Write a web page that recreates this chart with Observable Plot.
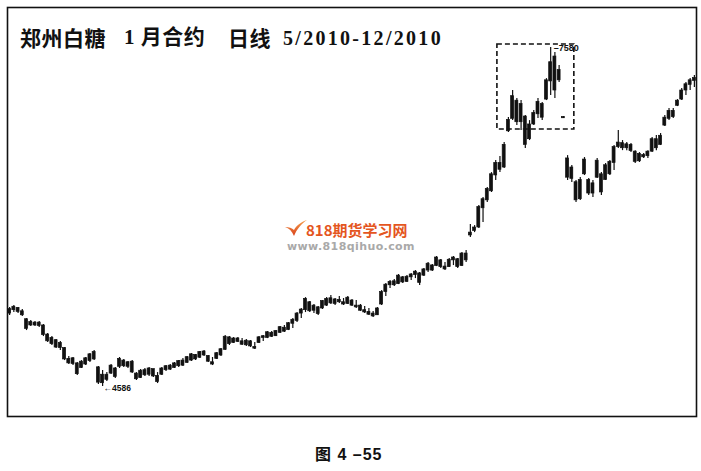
<!DOCTYPE html>
<html><head><meta charset="utf-8">
<script src="https://cdn.jsdelivr.net/npm/d3@7"></script>
<script src="https://cdn.jsdelivr.net/npm/@observablehq/plot@0.6"></script>
<style>
html,body{margin:0;padding:0;background:#fff;}
#wrap{position:relative;width:701px;height:471px;overflow:hidden;background:#fff;}
#wrap svg{position:absolute;left:0;top:0;}
.t{position:absolute;white-space:nowrap;font-weight:700;color:#111;line-height:1;}
.cjk{font-family:"Noto Sans CJK SC",sans-serif;}
.num{font-family:"Liberation Serif","Noto Sans CJK SC",serif;}
</style></head><body><div id="wrap"></div>
<script>
// Daily OHLC, Zhengzhou sugar Jan contract, 5/2010-12/2010
const opens = [5230,5260,5280,5250,5180,5125,5150,5120,5125,5045,
4960,4995,4925,4925,4830,4785,4790,4750,4780,4810,
4890,4755,4615,4690,4700,4745,4760,4815,4760,4805,
4700,4660,4730,4690,4740,4680,4690,4730,4770,4750,
4765,4815,4795,4815,4865,4840,4895,4855,4800,4830,
4860,4910,5020,4970,5010,4985,4950,4985,4935,4970,
5015,5015,5060,5030,5060,5105,5085,5140,5165,5230,
5260,5330,5255,5285,5275,5300,5365,5315,5350,5330,
5315,5345,5300,5300,5260,5245,5230,5215,5310,5420,
5480,5515,5490,5550,5510,5550,5570,5585,5565,5610,
5655,5650,5700,5645,5640,5700,5710,5650,5760,5920,
5990,5990,6160,6230,6310,6450,6560,6520,6840,6950,
7110,6920,6970,6770,6900,6990,7080,7120,7280,7500,
7290,6965,6600,6420,6390,6240,6460,6410,6290,6430,
6460,6410,6460,6560,6700,6735,6690,6720,6660,6575,
6610,6620,6660,6770,6720,6890,6950,7020,7065,7120,
7200,7250,7285];
const highs = [5283,5301,5283,5266,5186,5168,5160,5160,5133,5054,
5027,5001,4983,4930,4851,4842,4798,4815,4842,4877,
4903,4762,4727,4709,4780,4753,4842,4824,4806,4815,
4709,4736,4745,4753,4736,4709,4753,4771,4780,4798,
4815,4833,4851,4877,4868,4895,4903,4859,4842,4886,
4921,5036,5027,5018,5018,5009,5001,4992,4974,5027,
5036,5071,5071,5080,5115,5124,5151,5186,5239,5274,
5371,5336,5310,5292,5345,5371,5389,5363,5380,5363,
5380,5354,5345,5310,5292,5274,5248,5283,5433,5495,
5522,5530,5575,5557,5566,5583,5610,5592,5628,5681,
5663,5734,5707,5681,5716,5734,5716,5769,5786,6016,
6007,6184,6254,6343,6475,6581,6617,6740,6961,7199,
7129,7111,6979,6934,7023,7129,7093,7305,7580,7535,
7420,6970,6625,6537,6405,6431,6608,6422,6405,6599,
6475,6555,6581,6714,6846,6758,6740,6731,6669,6652,
6643,6669,6784,6802,6820,6979,7040,7040,7120,7217,
7270,7305,7332];
const lows = [5213,5239,5230,5204,5080,5115,5115,5107,5027,4974,
4948,4921,4903,4815,4780,4771,4683,4745,4771,4798,
4815,4603,4586,4630,4692,4656,4745,4753,4745,4700,
4639,4656,4674,4674,4665,4612,4683,4718,4727,4745,
4753,4762,4789,4806,4815,4833,4851,4798,4771,4824,
4851,4903,4948,4965,4974,4948,4939,4930,4912,4965,
4983,5009,5018,5027,5054,5062,5080,5098,5151,5186,
5239,5239,5230,5213,5266,5292,5310,5301,5319,5301,
5310,5292,5274,5248,5230,5213,5195,5213,5301,5380,
5451,5469,5486,5495,5504,5522,5539,5477,5557,5592,
5601,5645,5628,5610,5636,5654,5628,5645,5681,5901,
5945,5981,6034,6210,6299,6405,6475,6511,6828,6934,
6890,6846,6687,6758,6890,6952,6934,7111,7155,7129,
7270,6952,6405,6387,6210,6228,6449,6272,6254,6422,
6272,6405,6449,6493,6687,6669,6669,6652,6555,6564,
6599,6599,6652,6669,6714,6881,6934,6952,7058,7111,
7155,7199,7226];
const closes = [5270,5290,5245,5215,5095,5155,5125,5150,5040,4985,
5015,4930,4970,4825,4790,4835,4695,4805,4835,4870,
4825,4620,4690,4645,4770,4670,4830,4765,4800,4710,
4650,4725,4685,4745,4675,4625,4745,4765,4735,4790,
4810,4770,4845,4870,4825,4890,4860,4805,4780,4880,
4915,5025,4960,5010,4980,4955,4990,4940,4920,5020,
5030,5065,5025,5075,5110,5070,5145,5175,5230,5265,
5360,5250,5300,5225,5340,5360,5320,5355,5330,5310,
5370,5300,5285,5255,5240,5220,5205,5275,5420,5485,
5510,5480,5565,5505,5555,5575,5600,5500,5620,5670,
5610,5725,5640,5620,5705,5725,5640,5760,5700,5945,
5960,6170,6240,6330,6460,6560,6500,6720,6940,7150,
6920,7080,6720,6900,7000,7100,6960,7290,7450,7200,
7380,6955,6430,6520,6230,6410,6590,6290,6380,6580,
6300,6540,6570,6700,6740,6690,6725,6665,6570,6640,
6630,6660,6770,6690,6800,6960,7020,6965,7110,7200,
7255,7290,7310];

// annotations
const boxIndexRange = [115.4, 133.6];
const boxPriceRange = [6855, 7606];
const lowMark = {i: 22, price: 4586, label: "4586"};
const highMark = {i: 128, price: 7580, label: "7580"};

const titleParts = ["郑州白糖", "1 月合约", "日线", "5/2010-12/2010"];
const captionText = "图 4 –55";
const watermark = ["818期货学习网", "www.818qihuo.com"];

const n = opens.length;
const data = d3.range(n).map(i => ({i, open: opens[i], high: highs[i], low: lows[i], close: closes[i]}));
const box = [{x1: boxIndexRange[0], x2: boxIndexRange[1], y1: boxPriceRange[0], y2: boxPriceRange[1]}];

const chart = Plot.plot({
  width: 701, height: 430,
  marginLeft: 7, marginRight: 5, marginTop: 7, marginBottom: 14,
  x: {domain: [-0.5, n - 0.5], axis: null},
  y: {domain: [4321, 7933], axis: null},
  style: {background: "transparent", overflow: "visible"},
  marks: [
    Plot.frame({stroke: "#111", strokeWidth: 1.6}),
    Plot.ruleX(data, {x: "i", y1: "low", y2: "high", stroke: "#111", strokeWidth: 1.2}),
    Plot.rect(data, {x1: d => d.i - 0.35, x2: d => d.i + 0.35, y1: "open", y2: "close", fill: "#111", stroke: "#111", strokeWidth: 0.7}),
    Plot.rect(box, {x1: "x1", x2: "x2", y1: "y1", y2: "y2", fill: "none", stroke: "#111", strokeWidth: 1.6, strokeDasharray: "5,3"}),
    Plot.text([lowMark], {x: "i", y: "price", text: d => "←" + d.label, textAnchor: "start", dx: 1, dy: 2, fontSize: 8.5, fontWeight: "bold", fill: "#111", fontFamily: "Liberation Sans Narrow, Liberation Sans, sans-serif"}),
    Plot.text([highMark], {x: "i", y: "price", text: d => "–" + d.label, textAnchor: "start", dx: 3, dy: 1, fontSize: 9, fontWeight: "bold", fill: "#111", fontFamily: "Liberation Sans Narrow, Liberation Sans, sans-serif"})
  ]
});

const wrap = document.getElementById("wrap");
wrap.appendChild(chart);

function addText(txt, cls, left, top, size, extra) {
  const d = document.createElement("div");
  d.className = "t " + cls;
  d.textContent = txt;
  d.style.left = left + "px";
  d.style.top = top + "px";
  d.style.fontSize = size + "px";
  if (extra) Object.assign(d.style, extra);
  wrap.appendChild(d);
  return d;
}
// title
addText(titleParts[0], "cjk", 20, 27, 21, {letterSpacing: "0.5px"});
addText(titleParts[1], "cjk", 124, 27, 21, {letterSpacing: "0.5px", fontFamily: "'Liberation Serif','Noto Sans CJK SC',serif"});
addText(titleParts[2], "cjk", 228, 27, 21, {letterSpacing: "0.5px"});
addText(titleParts[3], "num", 283, 28, 20, {letterSpacing: "2.3px"});

// watermark
const logo = document.createElementNS("http://www.w3.org/2000/svg", "svg");
logo.setAttribute("width", "24"); logo.setAttribute("height", "20");
logo.style.cssText = "position:absolute;left:284px;top:219px;";
logo.innerHTML = '<defs><linearGradient id="lg" x1="0" y1="0" x2="0" y2="1"><stop offset="0" stop-color="#f6a04a"/><stop offset="1" stop-color="#d8401c"/></linearGradient></defs><path d="M1 8 C5 9 8 12 10 17 C13 10 17 5 23 1 C17 3 12 7 10 11 C8 9 5 8 1 8 Z" fill="url(#lg)"/>';
wrap.appendChild(logo);
addText(watermark[0], "cjk", 306, 222, 15, {color: "#e4561f", fontWeight: "700"});
addText(watermark[1], "", 287, 241, 11, {color: "#a9a9a9", fontFamily: "'DejaVu Sans',sans-serif", letterSpacing: "0.4px", fontWeight: "700"});

// caption
addText(captionText, "cjk", 315, 447, 16, {fontFamily: "'Liberation Sans','Noto Sans CJK SC',sans-serif", letterSpacing: "1px"});
</script></body></html>
